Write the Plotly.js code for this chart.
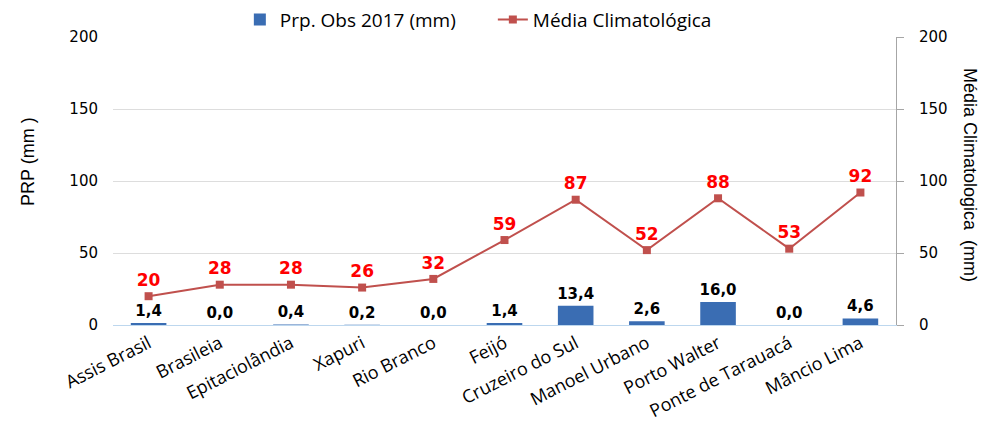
<!DOCTYPE html>
<html>
<head>
<meta charset="utf-8">
<script src="https://cdn.plot.ly/plotly-3.0.1.min.js"></script>
<style>html,body{margin:0;padding:0;background:#fff;}#chart{width:982px;height:429px;}</style>
</head>
<body>
<div id="chart"></div>
<script>
const categories = ["Assis Brasil","Brasileia","Epitaciolândia","Xapuri","Rio Branco","Feijó","Cruzeiro do Sul","Manoel Urbano","Porto Walter","Ponte de Tarauacá","Mâncio Lima"];
const obs2017 = [1.4, 0.0, 0.4, 0.2, 0.0, 1.4, 13.4, 2.6, 16.0, 0.0, 4.6];
const climatologia = [20, 28, 28, 26, 32, 59, 87, 52, 88, 53, 92];
const yTicks = [0, 50, 100, 150, 200];

const traces = [
  {
    type: 'bar', name: 'Prp. Obs 2017 (mm)', x: categories, y: obs2017,
    marker: {color: '#3A6DB3', line: {width: 0}},
    width: 0.5,
    texttemplate: '%{y:.1f}', textposition: 'outside', cliponaxis: false, constraintext: 'none',
    textfont: {family: 'DejaVu Sans', size: 15, color: '#000', weight: 'bold'},
    hoverinfo: 'skip'
  },
  {
    type: 'scatter', mode: 'lines+markers+text', name: 'Média Climatológica', x: categories, y: climatologia,
    yaxis: 'y2',
    line: {color: '#C0504D', width: 2},
    marker: {symbol: 'square', size: 8, color: '#C0504D'},
    text: climatologia.map(String), textposition: 'top center', cliponaxis: false,
    textfont: {family: 'DejaVu Sans', size: 17, color: '#FF0000', weight: 'bold'},
    hoverinfo: 'skip'
  }
];

const layout = {
  width: 982, height: 429,
  margin: {l: 113, r: 86, t: 37, b: 104, autoexpand: false},
  paper_bgcolor: '#fff', plot_bgcolor: '#fff',
  separators: ',.',
  showlegend: true,
  legend: {orientation: 'h', x: 0.162, xanchor: 'left', y: 1.06, yanchor: 'middle',
           font: {family: 'Open Sans', size: 19, color: '#000'}, itemwidth: 30, tracegroupgap: 0,
           entrywidth: 208, entrywidthmode: 'pixels'},
  xaxis: {
    automargin: false, range: [-0.5, 10.5],
    tickangle: -27, tickfont: {family: 'Open Sans', size: 18, color: '#000'},
    showgrid: false, showline: true, linecolor: '#BDD7EE', linewidth: 1, ticks: ''
  },
  yaxis: {
    automargin: false,
    range: [0, 200], tickvals: yTicks, showline: false, zeroline: false,
    gridcolor: '#DDDDDD', gridwidth: 1,
    tickfont: {family: 'DejaVu Sans', size: 15, color: '#000'},
    ticklabelstandoff: 14
  },
  yaxis2: {
    automargin: false,
    range: [0, 200], tickvals: yTicks, overlaying: 'y', side: 'right',
    showgrid: false, zeroline: false, showline: true, linecolor: '#A6A6A6', linewidth: 1,
    ticks: 'outside', ticklen: 7, tickcolor: '#A6A6A6',
    ticklabelstandoff: 12,
    tickfont: {family: 'DejaVu Sans', size: 15, color: '#000'}
  },
  annotations: [{
    text: 'Média Climatologica  (mm)', textangle: 90, xref: 'paper', yref: 'paper',
    x: 1.0 + (970 - 896) / 783, y: (325 - 175) / 288, xanchor: 'center', yanchor: 'middle', showarrow: false,
    font: {family: 'Liberation Sans', size: 18, color: '#000'}
  }, {
    text: 'PRP (mm )', textangle: -90, xref: 'paper', yref: 'paper',
    x: (28 - 113) / 783, y: (325 - 162) / 288, xanchor: 'center', yanchor: 'middle', showarrow: false,
    font: {family: 'Liberation Sans', size: 18, color: '#000'}
  }],
  bargap: 0.5
};

Plotly.newPlot('chart', traces, layout, {displayModeBar: false, staticPlot: true});
</script>
</body>
</html>
